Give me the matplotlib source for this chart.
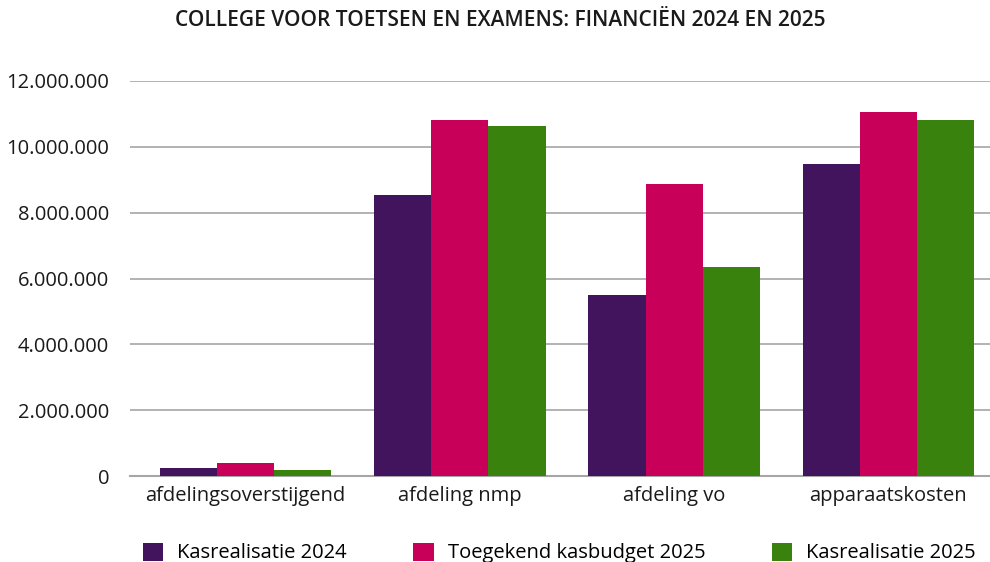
import numpy as np
import matplotlib.pyplot as plt
from matplotlib.ticker import FuncFormatter

plt.rcParams['font.family'] = ['Open Sans', 'DejaVu Sans']

categories = ['afdelingsoverstijgend', 'afdeling nmp', 'afdeling vo', 'apparaatskosten']
kas_2024 = [240000, 8540000, 5500000, 9480000]
budget_2025 = [400000, 10820000, 8870000, 11060000]
kas_2025 = [180000, 10640000, 6350000, 10820000]
series = ['Kasrealisatie 2024', 'Toegekend kasbudget 2025', 'Kasrealisatie 2025']
colors = ['#43145e', '#c8005a', '#3a820e']

fig = plt.figure(figsize=(9.9, 5.62), dpi=100)
ax = fig.add_axes([130 / 990, 1 - 476 / 562, 860 / 990, 395 / 562])

x = np.arange(len(categories))
w = 0.8 / 3
for i, (vals, name, c) in enumerate(zip([kas_2024, budget_2025, kas_2025], series, colors)):
    ax.bar(x + (i - 1) * w, vals, w, color=c, label=name, zorder=3)

ax.set_xlim(-0.539, 3.474)
ax.set_ylim(0, 12000000)
ax.set_yticks(np.arange(0, 12000001, 2000000))
ax.yaxis.set_major_formatter(FuncFormatter(lambda v, p: f'{int(v):,}'.replace(',', '.')))
ax.set_xticks(x)
ax.set_xticklabels(categories)
ax.grid(axis='y', color='#a6a6a6', linewidth=1.2, zorder=0)
for s in ['top', 'right', 'left']:
    ax.spines[s].set_visible(False)
ax.spines['bottom'].set_color('#a6a6a6')
ax.spines['bottom'].set_linewidth(1.5)
ax.tick_params(axis='both', length=0, labelsize=14.5, colors='#1a1a1a')
ax.tick_params(axis='y', pad=15)
ax.tick_params(axis='x', pad=7)

fig.suptitle('COLLEGE VOOR TOETSEN EN EXAMENS: FINANCIËN 2024 EN 2025',
             x=0.505, y=1 - 20 / 562, va='center', fontsize=15, fontweight='semibold',
             color='#1a1a1a')

fig.legend(loc='center', bbox_to_anchor=(0.565, 1 - 553 / 562), ncol=3, frameon=False,
           fontsize=14.5, handlelength=1.0, handleheight=1.0, columnspacing=3.3,
           handletextpad=0.7)

fig.savefig('out.png', dpi=100)
